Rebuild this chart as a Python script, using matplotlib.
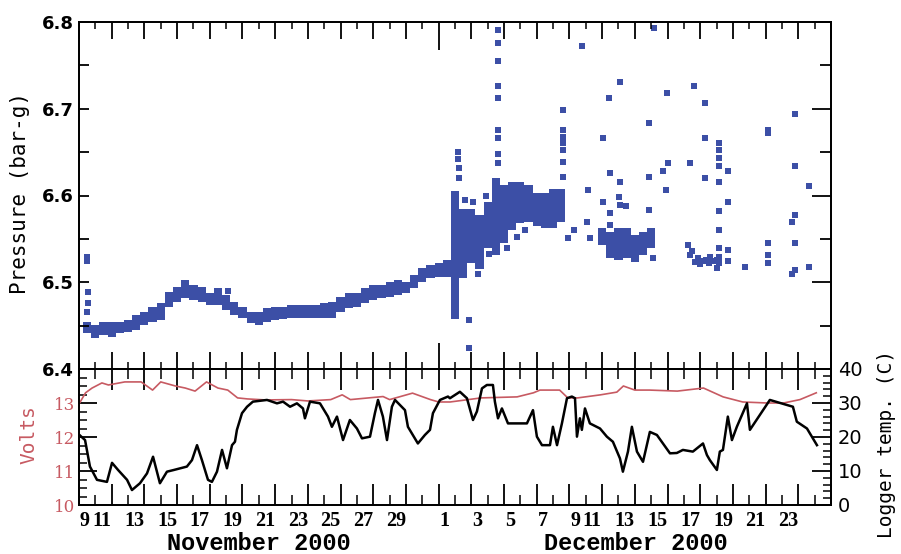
import matplotlib
matplotlib.use('Agg')
import matplotlib.pyplot as plt
import numpy as np
from matplotlib.transforms import ScaledTranslation

# time axis: days counted from 9 Nov 2000 00:00
# dense part of the pressure record, read as the low / high edge of the band
band_day = [0.5, 1.0, 1.5, 2.0, 2.5, 3.0, 3.5, 4.0, 4.5, 5.0, 5.5, 6.0, 6.5, 7.0, 7.5,
            8.0, 8.5, 9.0, 9.5, 10.0, 10.5, 11.0, 11.5, 12.0, 12.5, 13.0, 13.5, 14.0,
            14.5, 15.0, 15.5, 16.0, 16.5, 17.0, 17.5, 18.0, 18.5, 19.0, 19.5, 20.0,
            20.5, 21.0, 21.5, 22.0, 22.5, 23.0, 23.5, 24.0, 24.5, 25.0, 25.5, 26.0,
            26.5, 27.0, 27.5, 28.0, 28.5, 29.0, 29.5, 32.0, 32.5, 33.0, 33.5, 34.0,
            34.5, 35.0]
band_lo = [6.442, 6.436, 6.439, 6.437, 6.441, 6.443, 6.445, 6.451, 6.454, 6.456, 6.471,
           6.477, 6.482, 6.480, 6.477, 6.474, 6.474, 6.468, 6.462, 6.459, 6.453, 6.451,
           6.454, 6.456, 6.458, 6.459, 6.459, 6.459, 6.459, 6.459, 6.459, 6.466, 6.470,
           6.471, 6.476, 6.480, 6.482, 6.483, 6.485, 6.488, 6.493, 6.500, 6.505, 6.506,
           6.506, 6.458, 6.505, 6.522, 6.515, 6.540, 6.531, 6.545, 6.560, 6.568, 6.570,
           6.565, 6.563, 6.563, 6.570, 6.543, 6.528, 6.526, 6.528, 6.523, 6.531, 6.540]
band_hi = [6.454, 6.451, 6.454, 6.454, 6.454, 6.456, 6.462, 6.466, 6.471, 6.476, 6.489,
           6.495, 6.503, 6.497, 6.495, 6.488, 6.493, 6.485, 6.477, 6.471, 6.466, 6.466,
           6.470, 6.471, 6.471, 6.474, 6.474, 6.474, 6.474, 6.476, 6.477, 6.483, 6.488,
           6.488, 6.493, 6.497, 6.497, 6.500, 6.503, 6.500, 6.508, 6.516, 6.520, 6.522,
           6.526, 6.605, 6.585, 6.585, 6.578, 6.592, 6.620, 6.612, 6.615, 6.615, 6.612,
           6.603, 6.603, 6.608, 6.608, 6.563, 6.558, 6.563, 6.563, 6.555, 6.558, 6.563]

# isolated pressure readings
pt_day = [0.5, 0.5, 0.55, 0.55, 0.5, 9.1,
          23.2, 23.2, 23.25, 23.25, 23.85, 23.85,
          25.6, 25.6, 25.6, 25.6, 25.6, 25.6, 25.6, 25.6, 25.6,
          29.6, 29.6, 29.6, 29.6, 29.6, 29.6, 29.6,
          29.9, 30.28, 30.76, 31.07, 31.13, 31.25, 32.05, 32.05, 32.42, 32.48, 32.48,
          32.48, 33.09, 33.09, 33.03, 33.09, 33.46, 34.86, 34.86, 34.86, 35.1, 35.17,
          35.72, 35.90, 35.96, 36.02, 37.37, 37.61, 38.29, 38.29, 38.29,
          39.14, 39.14, 39.14, 39.14, 39.14, 39.14, 39.14, 39.14, 39.14, 39.14,
          39.69, 39.69, 39.69, 39.69, 40.73, 42.14, 42.14, 42.14, 42.14, 42.14,
          43.79, 43.79, 43.79, 43.61, 43.79, 43.79, 43.61, 44.65, 44.65,
          37.25, 37.37, 37.5, 37.68, 37.85, 37.98, 38.15, 38.35, 38.53, 38.59, 38.8,
          39.02, 39.02,
          23.6, 24.1, 24.4, 24.9, 25.1, 26.2, 26.8, 27.3]
pt_p = [6.529, 6.524, 6.489, 6.476, 6.466, 6.490,
        6.650, 6.642, 6.632, 6.620, 6.456, 6.424,
        6.791, 6.776, 6.755, 6.726, 6.712, 6.676, 6.666, 6.648, 6.637,
        6.699, 6.676, 6.668, 6.660, 6.652, 6.639, 6.621,
        6.551, 6.560, 6.772, 6.569, 6.606, 6.551, 6.666, 6.593, 6.712, 6.626, 6.580,
        6.566, 6.731, 6.616, 6.598, 6.589, 6.588, 6.684, 6.621, 6.583, 6.528, 6.793,
        6.628, 6.606, 6.718, 6.638, 6.638, 6.726, 6.707, 6.666, 6.620,
        6.661, 6.652, 6.643, 6.634, 6.615, 6.582, 6.560, 6.539, 6.529, 6.522,
        6.628, 6.592, 6.537, 6.525, 6.518, 6.676, 6.672, 6.545, 6.531, 6.522,
        6.694, 6.634, 6.578, 6.569, 6.545, 6.514, 6.510, 6.611, 6.518,
        6.543, 6.531, 6.536, 6.523, 6.528, 6.521, 6.524, 6.526, 6.522, 6.529, 6.524,
        6.516, 6.526,
        6.595, 6.592, 6.510, 6.600, 6.532, 6.540, 6.552, 6.560]

# battery voltage
volt_day = [0.0, 0.4, 0.8, 1.4, 1.8, 2.8, 3.8, 4.5, 5.0, 5.9, 6.5, 7.1, 7.8, 8.5, 9.1,
            9.7, 10.3, 11.4, 13.0, 14.0, 15.4, 16.1, 16.6, 18.6, 19.0, 20.4, 21.5,
            22.0, 22.7, 24.6, 26.8, 27.8, 28.2, 29.4, 29.9, 30.5, 31.9, 32.9, 33.3,
            34.0, 34.9, 36.6, 38.2, 39.4, 40.6, 42.1, 43.1, 44.1, 45.1]
volt_v = [12.97, 13.3, 13.44, 13.59, 13.53, 13.62, 13.62, 13.38, 13.62, 13.5, 13.44,
          13.35, 13.62, 13.44, 13.38, 13.15, 13.12, 13.09, 13.1, 13.06, 13.1, 13.24,
          13.1, 13.19, 13.1, 13.29, 13.1, 13.03, 13.03, 13.15, 13.18, 13.3, 13.38,
          13.38, 13.15, 13.15, 13.24, 13.32, 13.5, 13.38, 13.38, 13.35, 13.44, 13.18,
          13.03, 13.0, 13.0, 13.1, 13.3]

# logger temperature
temp_day = [0.05, 0.37, 0.67, 1.10, 1.71, 2.02, 2.39, 2.94, 3.24, 3.73, 4.16, 4.53,
            4.95, 5.38, 5.8, 6.2, 6.6, 6.91, 7.22, 7.52, 7.89, 8.13, 8.44, 8.75, 9.05,
            9.36, 9.54, 9.66, 9.97, 10.28, 10.64, 11.50, 12.11, 12.48, 12.91, 13.33,
            13.70, 13.82, 14.13, 14.74, 15.23, 15.47, 15.78, 16.15, 16.57, 17.0, 17.31,
            17.80, 18.10, 18.29, 18.59, 18.84, 19.14, 19.33, 19.94, 20.12, 20.73, 21.16,
            21.47, 21.65, 22.08, 22.57,
            22.69, 23.30, 23.73, 24.10, 24.34, 24.65, 24.95, 25.32, 25.44, 25.63, 25.87,
            26.24, 26.79, 27.40, 27.77, 28.01, 28.32, 28.81, 28.99, 29.24, 29.54, 29.85,
            30.15, 30.34, 30.46, 30.64, 30.76, 30.95, 31.25, 31.87, 32.29, 32.66, 33.09,
            33.27, 33.58, 33.82, 34.13, 34.50, 34.92, 35.35, 36.15, 36.57, 36.94, 37.55,
            38.17, 38.41, 38.59, 39.02, 39.2, 39.39, 39.69, 39.94, 40.24, 40.86, 41.04,
            42.26, 43.67, 43.91, 44.53, 45.14]
temp_c = [20.5, 19.1, 11.3, 7.4, 6.8, 12.4, 10.3, 7.4, 4.4, 6.4, 9.3, 14.2,
          6.4, 9.8, 10.3, 10.8, 11.3, 13.2, 17.6, 13.2, 7.4, 6.8, 9.8, 16.2, 10.8,
          17.6, 18.6, 22.1, 27.0, 28.9, 30.4, 30.9, 29.9, 30.4, 28.9, 29.9,
          28.4, 25.5, 30.4, 29.9, 26.0, 23.0, 26.0, 19.1, 25.0, 22.5, 19.6,
          20.1, 27.0, 30.9, 26.0, 19.1, 28.9, 30.9, 27.9, 23.0, 18.1, 20.6,
          22.1, 27.0, 30.9, 31.9,
          31.4, 33.3, 31.4, 25.0, 27.5, 34.3, 35.3, 35.3, 30.4, 25.5, 28.4,
          24.0, 24.0, 24.0, 27.9, 20.1, 17.6, 17.6, 23.0, 17.6, 24.0, 31.4,
          31.9, 31.4, 20.1, 25.5, 22.1, 28.4, 24.0, 22.5, 20.1, 18.6, 13.7,
          9.8, 15.7, 23.0, 15.7, 12.7, 21.5, 20.6, 15.2, 15.3, 16.2, 15.7,
          18.1, 14.7, 13.2, 10.3, 15.7, 16.2, 26.0, 19.1, 23.0, 29.9, 22.1,
          30.9, 28.9, 24.5, 22.5, 17.6]

day_ticks = list(range(0, 47, 2))
day_labels = ['9', '11', '13', '15', '17', '19', '21', '23', '25', '27', '29',
              '1', '3', '5', '7', '9', '11', '13', '15', '17', '19', '21', '23', '']

blue = '#3c4fa6'
red = '#c75a62'

fig = plt.figure(figsize=(9.01, 5.54), dpi=100)
L, W = 79 / 901, 752 / 901
ax1 = fig.add_axes([L, 1 - 369 / 554, W, 347 / 554])
ax2 = fig.add_axes([L, 1 - 505 / 554, W, 136 / 554])

# ---- pressure panel
ax1.bar(band_day, np.array(band_hi) - np.array(band_lo), bottom=band_lo, width=0.5,
        color=blue, linewidth=0)
ax1.scatter(pt_day, pt_p, marker='s', s=13, color=blue, linewidths=0)
ax1.set_xlim(0, 46)
ax1.set_ylim(6.4, 6.8)
ax1.set_xticks(day_ticks)
ax1.set_xticks(range(0, 47), minor=True)
ax1.tick_params(axis='x', which='major', direction='in', top=True, bottom=True,
                length=12, width=1.3, labelbottom=False)
ax1.tick_params(axis='x', which='minor', direction='in', top=True, bottom=True,
                length=5, width=1.1)
# 1 December gets the long tick
t = ax1.xaxis.get_major_ticks()[11]
t.tick1line.set_markersize(19)
t.tick2line.set_markersize(20)
ax1.set_yticks([6.4, 6.5, 6.6, 6.7, 6.8])
ax1.set_yticks([6.45, 6.55, 6.65, 6.75], minor=True)
ax1.tick_params(axis='y', which='both', direction='in', length=7, width=1.3,
                labelsize=13, pad=4)
for lab in ax1.get_yticklabels():
    lab.set_fontweight('bold')
ax1r = ax1.twinx()
ax1r.set_ylim(6.4, 6.8)
ax1r.set_yticks([6.4, 6.5, 6.6, 6.7, 6.8])
ax1r.set_yticks([6.45, 6.55, 6.65, 6.75], minor=True)
ax1r.tick_params(axis='y', which='major', direction='in', length=14, width=1.3,
                 labelright=False)
ax1r.tick_params(axis='y', which='minor', direction='in', length=8, width=1.3)

# ---- voltage / temperature panel
ax2t = ax2.twinx()
ax2.plot(volt_day, volt_v, color=red, lw=1.2)
ax2t.plot(temp_day, temp_c, color='black', lw=1.8)
ax2.set_xlim(0, 46)
ax2.set_ylim(10, 14)
ax2t.set_ylim(0, 40)
ax2.set_xticks(day_ticks, day_labels)
ax2.set_xticks(range(0, 47), minor=True)
ax2.tick_params(axis='x', which='major', direction='in', top=True, bottom=True,
                length=15, width=1.3, pad=4)
ax2.tick_params(axis='x', which='minor', direction='in', top=True, bottom=True,
                length=7, width=1.1)
for lab in ax2.get_xticklabels():
    lab.set_fontfamily('Liberation Serif')
    lab.set_fontweight('bold')
    lab.set_fontsize(14.5)
    dx = -10 if lab.get_text() in day_labels[1:11] else 6
    lab.set_transform(lab.get_transform() + ScaledTranslation(dx / 100, 0, fig.dpi_scale_trans))

ax2.set_yticks([10, 11, 12, 13, 14], ['10', '11', '12', '13', ''])
ax2.set_yticks(np.arange(10, 14.01, 0.25), minor=True)
ax2.tick_params(axis='y', which='major', direction='in', length=13, width=1.3,
                labelcolor=red, labelsize=12, pad=3)
ax2.tick_params(axis='y', which='minor', direction='in', length=6, width=1.1)
for lab in ax2.get_yticklabels():
    lab.set_fontfamily('DejaVu Serif')

ax2t.set_yticks([0, 10, 20, 30, 40])
ax2t.set_yticks(range(0, 41, 2), minor=True)
ax2t.tick_params(axis='y', which='major', direction='in', length=14, width=1.3,
                 labelsize=14, pad=5)
ax2t.tick_params(axis='y', which='minor', direction='in', length=6, width=1.1)

for a in (ax1, ax1r, ax2, ax2t):
    for s in a.spines.values():
        s.set_linewidth(1.3)

# ---- text
fig.text(20 / 901, 1 - 193 / 554, 'Pressure (bar-g)', rotation=90, ha='center', va='center',
         family='DejaVu Sans Mono', fontsize=15)
fig.text(29 / 901, 1 - 435 / 554, 'Volts', rotation=90, ha='center', va='center',
         family='DejaVu Sans Mono', fontsize=14, color=red)
fig.text(887 / 901, 1 - 444 / 554, 'Logger temp. (C)', rotation=90, ha='center', va='center',
         family='DejaVu Sans Mono', fontsize=14)
fig.text(259 / 901, 1 - 543 / 554, 'November 2000', ha='center', va='center',
         family='Liberation Mono', fontweight='bold', fontsize=17)
fig.text(636 / 901, 1 - 543 / 554, 'December 2000', ha='center', va='center',
         family='Liberation Mono', fontweight='bold', fontsize=17)

fig.savefig('out.png', dpi=100)
